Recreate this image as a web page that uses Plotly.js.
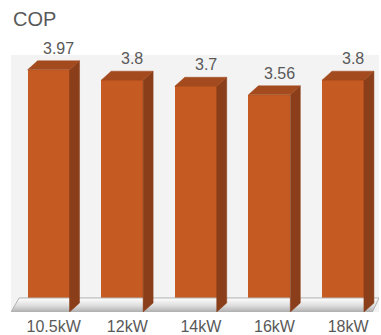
<!DOCTYPE html>
<html><head><meta charset="utf-8">
<script src="https://cdn.plot.ly/plotly-3.0.1.min.js"></script>
<style>html,body{margin:0;padding:0;background:#fff}</style>
</head><body><div id="chart" style="width:381px;height:335px"></div>
<script>
const categories = ['10.5kW', '12kW', '14kW', '16kW', '18kW'];
const copValues = [3.97, 3.8, 3.7, 3.56, 3.8];
const valueLabels = ['3.97', '3.8', '3.7', '3.56', '3.8'];

const barWidth = 0.57, depthX = 0.136, depthY = 0.148;
const idx = categories.map((c, i) => i);

const sideX = [], sideY = [], topX = [], topY = [];
idx.forEach(i => {
  const v = copValues[i], xl = i - barWidth / 2, xr = i + barWidth / 2;
  sideX.push(xr, xr, xr + depthX, xr + depthX, xr, null);
  sideY.push(0, v, v + depthY, depthY, 0, null);
  topX.push(xl, xr, xr + depthX, xl + depthX, xl, null);
  topY.push(v, v, v + depthY, v + depthY, v, null);
});

const floorTrace = {
  x: [-0.51, 4.40, 4.49, -0.40, -0.51], y: [0, 0, 0.23, 0.23, 0],
  mode: 'lines', fill: 'toself', line: {width: 1, color: '#b0b0b0'},
  fillgradient: {type: 'vertical', colorscale: [[0, '#b0b0b0'], [0.45, '#dddddd'], [1, '#ffffff']]},
  hoverinfo: 'skip', showlegend: false
};
const frontTrace = {
  type: 'bar', x: idx, y: copValues, width: barWidth,
  marker: {color: '#c55a22', line: {width: 0}}, hoverinfo: 'skip', showlegend: false
};
const sideTrace = {
  x: sideX, y: sideY, mode: 'lines', fill: 'toself', fillcolor: '#8a3f1a',
  line: {width: 0.5, color: '#8a3f1a'}, hoverinfo: 'skip', showlegend: false
};
const topTrace = {
  x: topX, y: topY, mode: 'lines', fill: 'toself', fillcolor: '#a34b1e',
  line: {width: 0.5, color: '#a34b1e'}, hoverinfo: 'skip', showlegend: false
};

const annotations = idx.map(i => ({
  x: i + 0.14, y: copValues[i] + depthY, text: valueLabels[i],
  showarrow: false, yanchor: 'bottom', yshift: 2,
  font: {size: 16, color: '#595959'}
}));

const layout = {
  width: 381, height: 335,
  margin: {l: 11, r: 2, t: 55, b: 23},
  paper_bgcolor: '#ffffff', plot_bgcolor: '#f3f3f3',
  font: {family: 'Liberation Sans, Arial, sans-serif', color: '#595959'},
  title: {text: 'COP', x: 13 / 381, xanchor: 'left', xref: 'container',
          y: 1 - 12 / 335, yanchor: 'top', yref: 'container',
          font: {size: 20, color: '#595959'}},
  xaxis: {range: [-0.51, 4.49], tickvals: idx.map(i => i + 0.07), ticktext: categories,
          showgrid: false, zeroline: false, showline: false, ticks: '', ticklen: 0,
          ticklabelstandoff: 3,
          tickfont: {size: 16, color: '#595959'}, fixedrange: true},
  yaxis: {range: [0, 4.213], showgrid: false, zeroline: false, showline: false,
          showticklabels: false, ticks: '', fixedrange: true},
  annotations: annotations,
  bargap: 0
};

Plotly.newPlot('chart', [floorTrace, frontTrace, sideTrace, topTrace], layout, {displayModeBar: false, staticPlot: true});
</script></body></html>
